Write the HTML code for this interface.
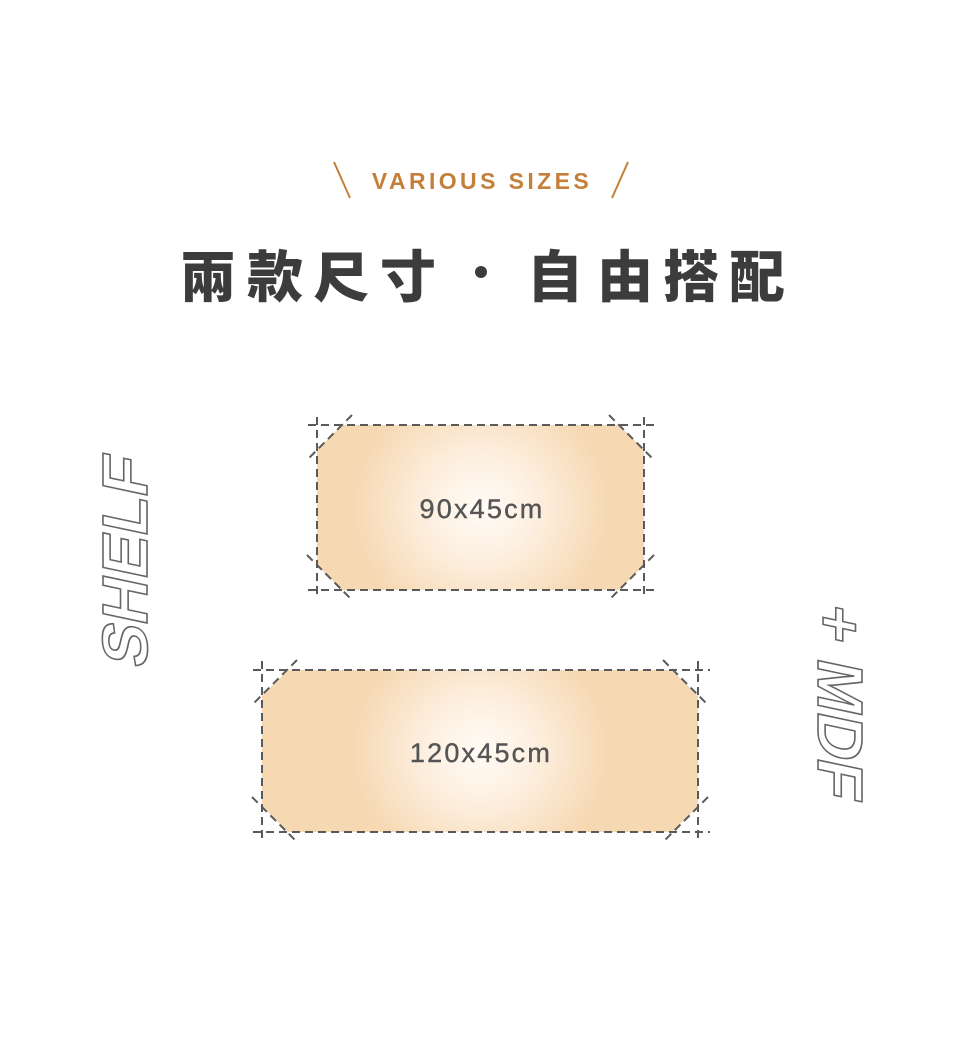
<!DOCTYPE html>
<html><head><meta charset="utf-8"><style>
html,body{margin:0;padding:0;background:#fff;}
svg{display:block}
</style></head><body>
<svg width="960" height="1059" viewBox="0 0 960 1059" xmlns="http://www.w3.org/2000/svg">
<defs>
<radialGradient id="g1" gradientUnits="userSpaceOnUse" cx="481" cy="508" r="130" gradientTransform="translate(481 508) scale(1 0.95) translate(-481 -508)">
<stop offset="0" stop-color="#fffbf5"/><stop offset="0.4" stop-color="#fdf0e1"/><stop offset="1" stop-color="#f6d8b2"/>
</radialGradient>
<radialGradient id="g2" gradientUnits="userSpaceOnUse" cx="480" cy="751" r="130" gradientTransform="translate(480 751) scale(1 0.95) translate(-480 -751)">
<stop offset="0" stop-color="#fffbf5"/><stop offset="0.4" stop-color="#fdf0e1"/><stop offset="1" stop-color="#f6d8b2"/>
</radialGradient>
</defs>
<line x1="334" y1="162" x2="350" y2="198" stroke="#c47f3a" stroke-width="2"/>
<line x1="628" y1="162" x2="612" y2="198" stroke="#c47f3a" stroke-width="2"/>
<text x="482" y="189" text-anchor="middle" font-family="Liberation Sans, sans-serif" font-weight="bold" font-size="23" letter-spacing="3.4" fill="#c47f3a">VARIOUS SIZES</text>
<g font-family="Liberation Sans, 'Noto Sans CJK TC', sans-serif" font-weight="900" font-size="56" fill="#3c3c3c" text-anchor="middle">
<text x="208" y="297">兩</text><text x="275" y="297">款</text><text x="341" y="297">尺</text><text x="408" y="297">寸</text>
<circle cx="481" cy="272" r="6"/>
<text x="555" y="297">自</text><text x="625" y="297">由</text><text x="691" y="297">搭</text><text x="757" y="297">配</text>
</g>
<polygon points="342,425 619,425 644,450 644,565 619,590 342,590 317,565 317,450" fill="url(#g1)"/>
<g stroke="#5a5a5a" stroke-width="2" stroke-dasharray="8,5" fill="none">
<line x1="308" y1="425" x2="656" y2="425"/><line x1="308" y1="590" x2="656" y2="590"/>
<line x1="317" y1="417" x2="317" y2="598"/><line x1="644" y1="417" x2="644" y2="598"/>
<line x1="352" y1="415" x2="307" y2="460"/><line x1="609" y1="415" x2="654" y2="460"/>
<line x1="307" y1="555" x2="352" y2="600"/><line x1="654" y1="555" x2="609" y2="600"/>
</g>
<text x="482" y="518" text-anchor="middle" font-family="Liberation Sans, sans-serif" font-size="27" letter-spacing="2.2" fill="#555" stroke="#555" stroke-width="0.4">90x45cm</text>
<polygon points="288,670 672,670 698,696 698,806 672,832 288,832 262,806 262,696" fill="url(#g2)"/>
<g stroke="#5a5a5a" stroke-width="2" stroke-dasharray="8,5" fill="none">
<line x1="253" y1="670" x2="710" y2="670"/><line x1="253" y1="832" x2="710" y2="832"/>
<line x1="262" y1="661" x2="262" y2="840"/><line x1="698" y1="661" x2="698" y2="840"/>
<line x1="297" y1="660" x2="252" y2="705"/><line x1="663" y1="660" x2="708" y2="705"/>
<line x1="252" y1="797" x2="297" y2="842"/><line x1="708" y1="797" x2="663" y2="842"/>
</g>
<text x="481" y="762" text-anchor="middle" font-family="Liberation Sans, sans-serif" font-size="27" letter-spacing="2.2" fill="#555" stroke="#555" stroke-width="0.4">120x45cm</text>
<text transform="translate(147,565) rotate(-90) skewX(-12)" text-anchor="middle" font-family="Liberation Sans, sans-serif" font-weight="bold" font-size="64" fill="none" stroke="#666" stroke-width="1.6">SHELF</text>
<text transform="translate(818,698) rotate(90) skewX(-12)" text-anchor="middle" font-family="Liberation Sans, sans-serif" font-weight="bold" font-size="64" fill="none" stroke="#666" stroke-width="1.6">+ MDF</text>
</svg>
</body></html>
